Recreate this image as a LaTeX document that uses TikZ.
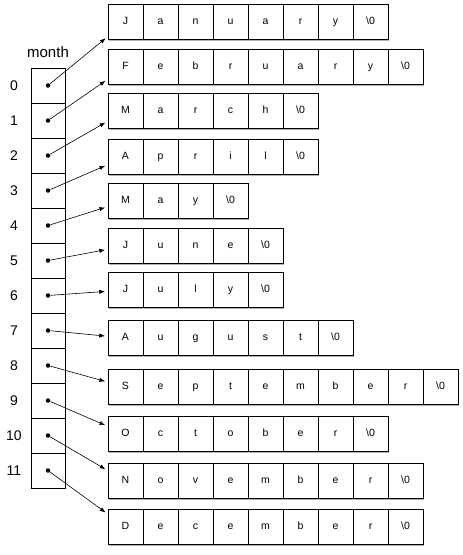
\documentclass[tikz,border=0pt]{standalone}
\usepackage{fontspec}
\setmainfont{Liberation Sans}
\usepackage{tikz}
\usetikzlibrary{arrows.meta, positioning, calc, shadows}

\newcommand{\nul}{\textbackslash 0}

\begin{document}
\begin{tikzpicture}[
            x=1pt, y=-1pt, >=Latex, line width=0.8pt,
            % ---- 预定义样式 ----
            slot/.style = {draw, rectangle, minimum width=34pt, minimum height=35pt, outer sep=0pt, inner sep=0pt, fill=white},
            cell/.style = {draw, rectangle, minimum width=35pt, minimum height=35pt, outer sep=0pt, inner sep=0pt, fill=white,
                           font=\fontsize{10.5}{12}\selectfont, text height=7.5pt, text depth=2pt,
                           drop shadow={shadow xshift=0.8pt, shadow yshift=-1.6pt, fill=black!30, opacity=1}},
            idx/.style = {font=\fontsize{14}{16}\selectfont},
            ptr/.style = {->, line width=0.6pt, shorten >=3pt},
            dot/.style = {circle, fill, inner sep=0pt, minimum size=4.5pt}
        ]
        \useasboundingbox (0,0) rectangle (463,555);

        % ===================== 左侧：month 数组 =====================
        \node[slot, anchor=north] (m0) at (48,68) {};
        \foreach \k in {1,...,11} {
            \pgfmathtruncatemacro\prev{\k-1}
            \node[slot, below=0pt of m\prev] (m\k) {};
        }
        \node[above=7pt of m0, font=\fontsize{15}{17}\selectfont] (title) {month};

        % 下标 0..11
        \foreach \k in {0,...,11}
            \node[idx] (n\k) at ($(m\k.west)+(-17,0)$) {\k};

        % ===================== 右侧：字符串 =====================
        \foreach \k/\y/\word in {
                0/22/{J,a,n,u,a,r,y,\nul},
                1/67/{F,e,b,r,u,a,r,y,\nul},
                2/111/{M,a,r,c,h,\nul},
                3/157/{A,p,r,i,l,\nul},
                4/201/{M,a,y,\nul},
                5/246/{J,u,n,e,\nul},
                6/290/{J,u,l,y,\nul},
                7/338/{A,u,g,u,s,t,\nul},
                8/387/{S,e,p,t,e,m,b,e,r,\nul},
                9/434/{O,c,t,o,b,e,r,\nul},
                10/481/{N,o,v,e,m,b,e,r,\nul},
                11/527/{D,e,c,e,m,b,e,r,\nul}} {
            \coordinate (s\k-0) at (108,\y);
            \foreach \c [count=\i] in \word {
                \pgfmathtruncatemacro\prev{\i-1}
                \node[cell, right=0pt of s\k-\prev] (s\k-\i) {\c};
            }
        }

        % ---- 指针 ----
        \foreach \k in {0,...,11} {
            \node[dot] (p\k) at (m\k) {};
            \draw[ptr] (p\k) -- (s\k-1);
        }

        \end{tikzpicture}
\end{document}
